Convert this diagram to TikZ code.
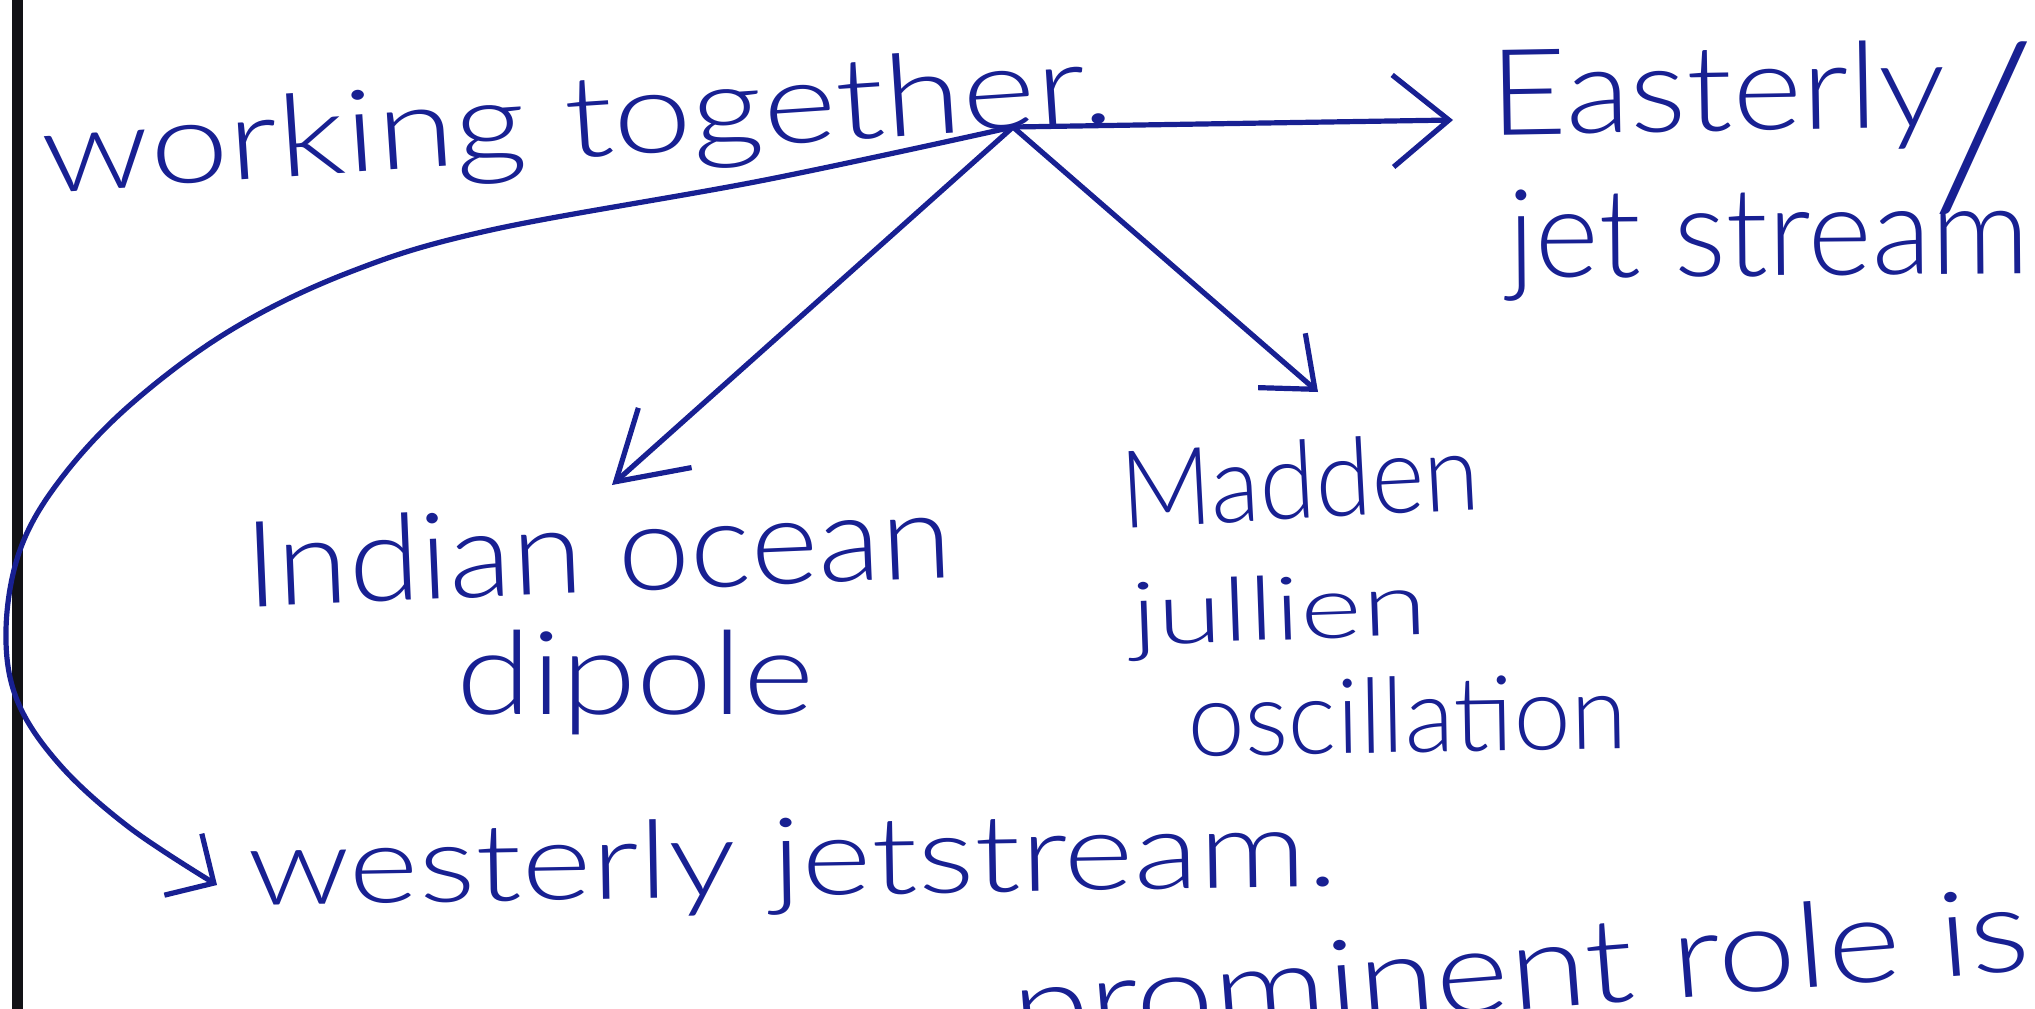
\documentclass[tikz,border=0pt]{standalone}
\usepackage{fontspec}
\usepackage{graphicx}
\usetikzlibrary{arrows.meta}
% a light sans for the pen lettering, with a safe fallback
\IfFontExistsTF{Lato Light}
  {\newfontfamily\handfont{Lato Light}}
  {\newfontfamily\handfont{Lato}}
\definecolor{ink}{RGB}{24,32,146}
\definecolor{margin}{RGB}{18,18,22}
% scale a text to a given width, keeping its height
\newcommand\fitto[2]{\resizebox{#1}{\height}{#2}}

\begin{document}
\begin{tikzpicture}[x=0.5pt,y=-0.5pt,
  hand/.style={inner sep=0pt, outer sep=0pt, text=ink, anchor=base west},
  sz/.style={font=\handfont\fontsize{#1pt}{#1pt}\selectfont},
  pen/.style={draw=ink, line width=2.6pt, line cap=round, line join=round},
  barb/.style 2 args={-{Straight Barb[length=#1pt,width=#2pt]}}]

% page
\path[use as bounding box, clip] (0,0) rectangle (2035,1008);
\fill[white] (0,0) rectangle (2035,1008);

% margin rule
\draw[margin, line width=5.5pt] (17,-10) -- (17,1020);

% labels
\node[hand, sz=57, rotate=3.8] (wt) at (45,193) {\fitto{536pt}{working together.}};
\node[hand, sz=60, rotate=1]   (east) at (1490,135) {\fitto{228pt}{Easterly}};
\node[hand, sz=114, anchor=center, rotate=-2] (slash) at (1984,128) {/};
\node[hand, sz=62, rotate=0.5] (eastb) at (1508,278) {\fitto{261pt}{jet stream}};
\node[hand, sz=60, rotate=2.4] (iod) at (246,607) {\fitto{354pt}{Indian ocean}};
\node[hand, sz=58]             (iodb) at (456,714) {\fitto{179pt}{dipole}};
\node[hand, sz=54, rotate=1]   (west) at (248,905) {\fitto{545pt}{westerly jetstream.}};
\node[hand, sz=54, rotate=3]   (mjo) at (1122,528) {\fitto{180pt}{Madden}};
\node[hand, sz=44, rotate=2]   (mjob) at (1132,645) {\fitto{148pt}{jullien}};
\node[hand, sz=52, rotate=1]   (mjoc) at (1188,756) {\fitto{220pt}{oscillation}};
\node[hand, sz=59, rotate=4.5] (next) at (1015,1050) {\fitto{510pt}{prominent role is}};

% branch point and arrow ends
\coordinate (hub)  at (1013,127);
\coordinate (tipE) at (1453,120);
\coordinate (tipI) at (612,485);
\coordinate (tipM) at (1318,392);
\coordinate (tipW) at (217,885);

% connectors
\draw[pen, barb={28}{46}] (hub) -- (tipE);
\draw[pen, barb={33}{40}] (hub) -- (tipI);
\draw[pen, barb={22}{36}] (hub) -- (tipM);
\draw[pen, barb={18}{36}] plot[smooth, tension=0.6] coordinates
  {(hub) (765,180) (491,230) (350,272) (231,330) (130,405) (60,480)
   (20,550) (6,630) (17,700) (60,765) (130,828) (tipW)};
\end{tikzpicture}
\end{document}
